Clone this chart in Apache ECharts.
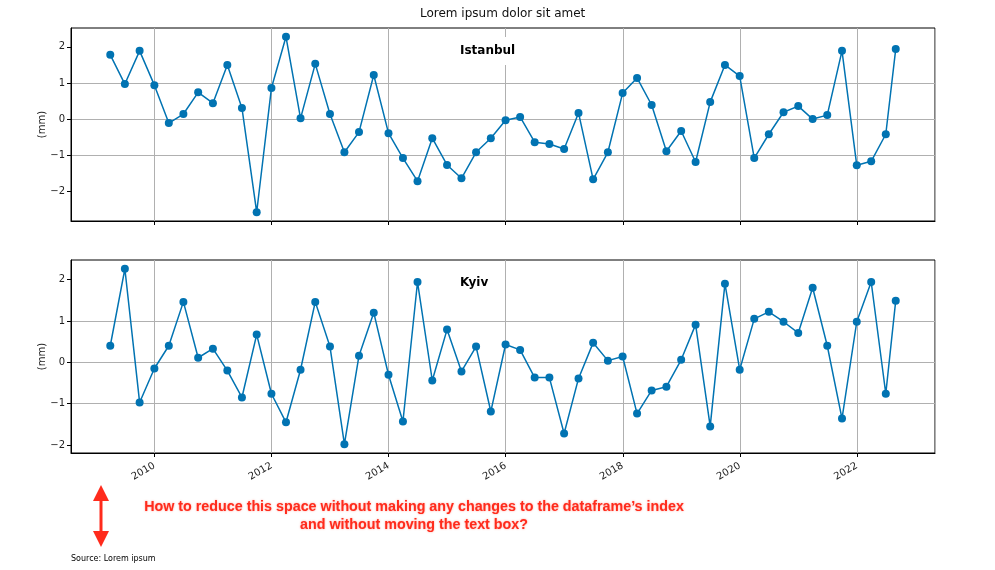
<!DOCTYPE html>
<html><head><meta charset="utf-8">
<script src="https://cdn.jsdelivr.net/npm/echarts@6/dist/echarts.min.js"></script>
<style>html,body{margin:0;padding:0;background:#fff}#c{width:995px;height:570px}</style>
</head><body><div id="c"></div>
<script>
const dates = ['2009-03-31','2009-06-30','2009-09-30','2009-12-31','2010-03-31','2010-06-30','2010-09-30','2010-12-31',
'2011-03-31','2011-06-30','2011-09-30','2011-12-31','2012-03-31','2012-06-30','2012-09-30','2012-12-31',
'2013-03-31','2013-06-30','2013-09-30','2013-12-31','2014-03-31','2014-06-30','2014-09-30','2014-12-31',
'2015-03-31','2015-06-30','2015-09-30','2015-12-31','2016-03-31','2016-06-30','2016-09-30','2016-12-31',
'2017-03-31','2017-06-30','2017-09-30','2017-12-31','2018-03-31','2018-06-30','2018-09-30','2018-12-31',
'2019-03-31','2019-06-30','2019-09-30','2019-12-31','2020-03-31','2020-06-30','2020-09-30','2020-12-31',
'2021-03-31','2021-06-30','2021-09-30','2021-12-31','2022-03-31','2022-06-30','2022-08-31'];
const istanbul = [1.78,0.97,1.89,0.94,-0.11,0.14,0.74,0.44,1.50,0.31,-2.58,0.86,2.28,0.02,1.53,0.14,-0.92,-0.36,1.22,-0.39,
-1.08,-1.72,-0.53,-1.27,-1.64,-0.92,-0.53,-0.03,0.06,-0.64,-0.69,-0.83,0.17,-1.67,-0.92,0.72,1.14,0.39,-0.89,-0.33,
-1.19,0.47,1.50,1.19,-1.08,-0.42,0.19,0.36,0.00,0.11,1.89,-1.28,-1.17,-0.42,1.94];
const kyiv = [0.40,2.26,-0.97,-0.15,0.40,1.46,0.11,0.33,-0.20,-0.85,0.67,-0.76,-1.45,-0.18,1.46,0.38,-1.98,0.16,1.20,-0.30,
-1.43,1.94,-0.44,0.79,-0.22,0.38,-1.19,0.43,0.30,-0.37,-0.37,-1.72,-0.39,0.47,0.04,0.14,-1.24,-0.68,-0.59,0.06,
0.91,-1.55,1.90,-0.18,1.05,1.22,0.98,0.71,1.80,0.40,-1.36,0.98,1.94,-0.76,1.49];
const xTicks = [2010,2012,2014,2016,2018,2020,2022];
const yTicks = [-2,-1,0,1,2];
const chartTitle = 'Lorem ipsum dolor sit amet';
const panelTitles = ['Istanbul','Kyiv'];
const yName = '(mm)';
const note1 = 'How to reduce this space without making any changes to the dataframe\u2019s index';
const note2 = 'and without moving the text box?';
const source = 'Source: Lorem ipsum';

function decYear(s){
  const [y,m,d] = s.split('-').map(Number);
  const t0 = Date.UTC(y,0,1), t1 = Date.UTC(y+1,0,1);
  return y + (Date.UTC(y,m-1,d) - t0)/(t1-t0);
}
const xs = dates.map(decYear);
function pad(arr){ const mn=Math.min(...arr), mx=Math.max(...arr), r=mx-mn; return [mn-0.05*r, mx+0.05*r]; }
const xr = pad(xs);
const y1 = pad(istanbul), y2 = pad(kyiv);
const FONT = 'DejaVu Sans';
const BLUE = '#0173b2';
const GRID = '#b0b0b0';
const minus = v => String(v).replace('-', '\u2212');

function xAxisCfg(gi, showLabels){
  return {type:'value', gridIndex:gi, position:'bottom', offset:0, min:xr[0], max:xr[1], splitNumber:7,
    axisLine:{show:true, onZero:false, lineStyle:{color:'#000', width:1}},
    axisTick:{show:true, length:4, lineStyle:{color:'#000'}, customValues: xTicks},
    axisLabel:{show:showLabels, rotate:30, margin:12, fontFamily:FONT, fontSize:10, color:'#222', customValues: xTicks,
      formatter: v => String(Math.round(v))},
    splitLine:{show:false}};
}
function xGridAxisCfg(gi){
  return {type:'value', gridIndex:gi, position:'bottom', offset:0, min:xr[0], max:xr[1], splitNumber:7,
    axisLine:{show:false, onZero:false}, axisTick:{show:false}, axisLabel:{show:false},
    splitLine:{show:true, showMinLine:true, showMaxLine:true, lineStyle:{color:GRID, width:1}}};
}
function yAxisCfg(gi, r){
  return {type:'value', gridIndex:gi, min:r[0], max:r[1], splitNumber:5,
    name: yName, nameLocation:'middle', nameGap:24, nameRotate:90, nameMoveOverlap:false,
    nameTextStyle:{fontFamily:FONT, fontSize:10, color:'#222'},
    axisLine:{show:true, onZero:false, lineStyle:{color:'#000', width:1}},
    axisTick:{show:true, length:4, lineStyle:{color:'#000'}, customValues: yTicks},
    axisLabel:{show:true, margin:6, fontFamily:FONT, fontSize:10, color:'#222', customValues: yTicks, formatter: v => minus(Math.round(v))},
    splitLine:{show:true, showMinLine:false, showMaxLine:false, lineStyle:{color:GRID, width:1}}};
}
const chart = echarts.init(document.getElementById('c'), null, {renderer:'canvas'});
chart.setOption({
  animation:false,
  backgroundColor:'#fff',
  title:[
    {text:chartTitle, left:420, top:7, textStyle:{fontFamily:FONT, fontSize:12, fontWeight:'normal', color:'#111', lineHeight:14}, padding:0},
    {text:panelTitles[0], left:453, top:37, backgroundColor:'#fff', padding:[7,6,7,7], z:10,
      textStyle:{fontFamily:FONT, fontSize:12, fontWeight:'bold', color:'#000', lineHeight:14}},
    {text:panelTitles[1], left:453, top:269, backgroundColor:'#fff', padding:[7,6,7,7], z:10,
      textStyle:{fontFamily:FONT, fontSize:12, fontWeight:'bold', color:'#000', lineHeight:14}}
  ],
  grid:[
    {left:71, top:28, width:864, height:193, show:true, borderColor:'#000', borderWidth:1, backgroundColor:'transparent'},
    {left:71, top:260, width:864, height:193, show:true, borderColor:'#000', borderWidth:1, backgroundColor:'transparent'}
  ],
  xAxis:[xGridAxisCfg(0), xGridAxisCfg(1), xAxisCfg(0,false), xAxisCfg(1,true)],
  yAxis:[yAxisCfg(0,y1), yAxisCfg(1,y2)],
  series:[
    {type:'line', xAxisIndex:2, yAxisIndex:0, data: xs.map((x,i)=>[x, istanbul[i]]), symbol:'circle', symbolSize:8,
      lineStyle:{color:BLUE, width:1.5}, itemStyle:{color:BLUE}, z:3},
    {type:'line', xAxisIndex:3, yAxisIndex:1, data: xs.map((x,i)=>[x, kyiv[i]]), symbol:'circle', symbolSize:8,
      lineStyle:{color:BLUE, width:1.5}, itemStyle:{color:BLUE}, z:3}
  ],
  graphic:[
    {type:'line', shape:{x1:101, y1:498, x2:101, y2:535}, style:{stroke:'#ff2b1c', lineWidth:3}},
    {type:'polygon', shape:{points:[[93,501],[109,501],[101,485]]}, style:{fill:'#ff2b1c'}},
    {type:'polygon', shape:{points:[[93,531],[109,531],[101,547]]}, style:{fill:'#ff2b1c'}},
    {type:'text', x:414, y:507, style:{text:note1, fill:'#ff2b1c', font:'bold 14.3px "Liberation Sans", Arial, sans-serif',
      textAlign:'center', textVerticalAlign:'middle', textShadowColor:'rgba(255,60,40,0.5)', textShadowBlur:2}},
    {type:'text', x:414, y:525, style:{text:note2, fill:'#ff2b1c', font:'bold 14.3px "Liberation Sans", Arial, sans-serif',
      textAlign:'center', textVerticalAlign:'middle', textShadowColor:'rgba(255,60,40,0.5)', textShadowBlur:2}},
    {type:'text', x:71, y:559, style:{text:source, fill:'#000', font:'8px "DejaVu Sans"', textAlign:'left', textVerticalAlign:'middle'}}
  ]
});
</script></body></html>
